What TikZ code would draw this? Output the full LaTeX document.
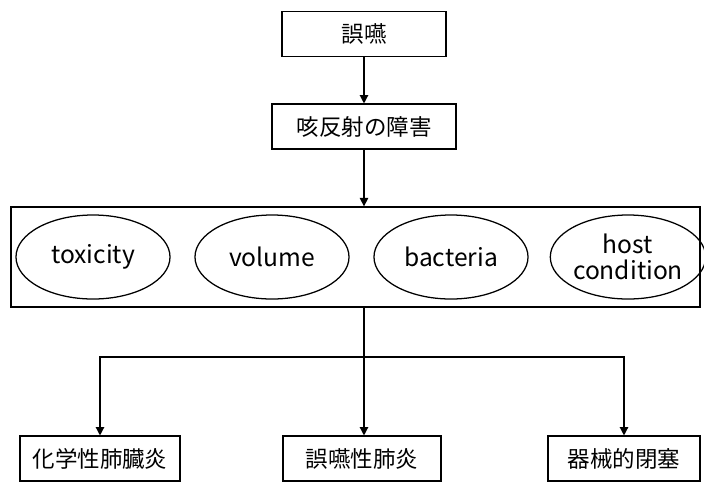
\documentclass[tikz,border=0pt]{standalone}
\usepackage{fontspec}
\setmainfont{Noto Sans CJK JP}
\usetikzlibrary{arrows.meta,shapes.geometric}

\begin{document}
\begin{tikzpicture}[x=0.025cm, y=-0.025cm,
    box/.style={draw, line width=0.9pt, minimum height=1.12cm, inner sep=0pt,
                font=\fontsize{16}{19}\selectfont},
    factor/.style={draw, ellipse, line width=0.9pt, minimum width=3.85cm,
                   minimum height=2.1cm, inner sep=0pt, align=center,
                   font=\fontsize{17.5}{19}\selectfont},
    link/.style={line width=0.9pt, -{Triangle[width=6pt,length=6pt]}}]

    \useasboundingbox (0,0) rectangle (704,481);

    % Top of the chain
    \node[box, minimum width=4.1cm] (aspiration) at (364,34) {誤嚥};
    \node[box, minimum width=4.6cm] (cough) at (364,126.5) {咳反射の障害};

    % Factors
    \node[draw, line width=0.9pt, minimum width=17.225cm, minimum height=2.5cm] (factors) at (355.5,257) {};
    \foreach \x/\name/\txt in {93/tox/toxicity, 272/vol/volume, 451/bac/bacteria, 628/host/{host\\condition}}
        \node[factor] (\name) at (\x,257) {\txt};

    % Results
    \node[box, minimum width=4cm]  (chem)  at (100,458.5) {化学性肺臓炎};
    \node[box, minimum width=3.95cm] (pneu) at (362,458.5) {誤嚥性肺炎};
    \node[box, minimum width=3.8cm] (block) at (624,458.5) {器械的閉塞};

    % Arrows
    \draw[link] (aspiration) -- (cough);
    \draw[link] (cough.south) -- (cough.south |- factors.north);

    \coordinate (branch) at (364,357);
    \draw[link] (factors.south -| branch) -- (branch |- pneu.north);
    \draw[link] (branch) -| (chem.north);
    \draw[link] (branch) -| (block.north);

\end{tikzpicture}
\end{document}
